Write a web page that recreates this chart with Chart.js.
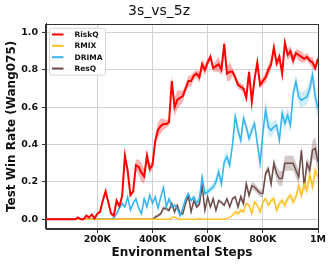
<!DOCTYPE html>
<html>
<head>
<meta charset="utf-8">
<script src="https://cdn.jsdelivr.net/npm/chart.js@4"></script>
<style>
    html, body { margin: 0; padding: 0; background: #fff; }
    #wrap { width: 332px; height: 265px; }
</style>
</head>
<body>
<div id="wrap"><canvas id="chart" width="332" height="265"></canvas></div>
<script>
/**
 * 3s_vs_5z win rate curves
 */

// environment steps, in thousands
const stepsK = [
    10, 20, 30, 40, 50, 60, 70, 80, 90, 100,
    110, 120, 130, 140, 150, 160, 170, 180, 190, 200,
    210, 220, 230, 240, 250, 260, 270, 280, 290, 300,
    310, 320, 330, 340, 350, 360, 370, 380, 390, 400,
    410, 420, 430, 440, 450, 460, 470, 480, 490, 500,
    510, 520, 530, 540, 550, 560, 570, 580, 590, 600,
    610, 620, 630, 640, 650, 660, 670, 680, 690, 700,
    710, 720, 730, 740, 750, 760, 770, 780, 790, 800,
    810, 820, 830, 840, 850, 860, 870, 880, 890, 900,
    910, 920, 930, 940, 950, 960, 970, 980, 990, 1000
];

const riskq = [
    0, 0, 0, 0, 0, 0, 0, 0, 0, 0,
    0, 0, 0.01, 0, 0, 0.02, 0.01, 0.025, 0.005, 0.03,
    0.04, 0.10, 0.15, 0.09, 0.03, 0.02, 0.10, 0.07, 0.125, 0.34,
    0.26, 0.13, 0.15, 0.29, 0.28, 0.25, 0.23, 0.34, 0.27, 0.29,
    0.42, 0.48, 0.50, 0.51, 0.51, 0.52, 0.74, 0.60, 0.64, 0.65,
    0.66, 0.70, 0.74, 0.74, 0.77, 0.78, 0.76, 0.83, 0.80, 0.84,
    0.87, 0.81, 0.82, 0.83, 0.80, 0.94, 0.78, 0.79, 0.79, 0.76,
    0.72, 0.71, 0.70, 0.65, 0.79, 0.63, 0.75, 0.84, 0.72, 0.74,
    0.76, 0.80, 0.83, 0.92, 0.835, 0.87, 0.78, 0.945, 0.88, 0.90,
    0.85, 0.89, 0.88, 0.87, 0.86, 0.87, 0.85, 0.84, 0.81, 0.86
];
const riskqStd = [
    0, 0, 0, 0, 0, 0, 0, 0, 0, 0,
    0, 0, 0, 0, 0, 0, 0, 0, 0, 0,
    0.01, 0.01, 0.01, 0.01, 0.01, 0.01, 0.01, 0.01, 0.01, 0.02,
    0.02, 0.01, 0.01, 0.03, 0.04, 0.05, 0.04, 0.04, 0.03, 0.02,
    0.03, 0.04, 0.04, 0.03, 0.02, 0.02, 0.03, 0.05, 0.05, 0.04,
    0.03, 0.02, 0.03, 0.03, 0.02, 0.02, 0.03, 0.03, 0.03, 0.02,
    0.02, 0.02, 0.03, 0.04, 0.03, 0.02, 0.04, 0.05, 0.02, 0.02,
    0.02, 0.02, 0.02, 0.02, 0.02, 0.02, 0.02, 0.02, 0.02, 0.02,
    0.03, 0.03, 0.03, 0.02, 0.02, 0.03, 0.03, 0.02, 0.03, 0.03,
    0.03, 0.02, 0.03, 0.03, 0.02, 0.02, 0.02, 0.03, 0.02, 0.02
];

const rmix = [
    0, 0, 0, 0, 0, 0, 0, 0, 0, 0,
    0, 0, 0, 0, 0, 0, 0, 0, 0, 0,
    0, 0, 0, 0, 0, 0, 0, 0, 0, 0,
    0, 0, 0, 0, 0, 0, 0, 0, 0, 0,
    0, 0, 0, 0, 0, 0, 0.01, 0.012, 0.005, 0,
    0, 0, 0, 0, 0, 0, 0.005, 0, 0, 0,
    0, 0, 0, 0, 0, 0, 0.005, 0.01, 0.02, 0.04,
    0.03, 0.048, 0.04, 0.084, 0.075, 0.03, 0.093, 0.075, 0.04, 0.093,
    0.11, 0.075, 0.10, 0.11, 0.048, 0.084, 0.10, 0.075, 0.11, 0.128,
    0.093, 0.12, 0.18, 0.128, 0.19, 0.155, 0.236, 0.173, 0.263, 0.227
];
const rmixStd = [
    0, 0, 0, 0, 0, 0, 0, 0, 0, 0,
    0, 0, 0, 0, 0, 0, 0, 0, 0, 0,
    0, 0, 0, 0, 0, 0, 0, 0, 0, 0,
    0, 0, 0, 0, 0, 0, 0, 0, 0, 0,
    0, 0, 0, 0, 0, 0, 0, 0, 0, 0,
    0, 0, 0, 0, 0, 0, 0, 0, 0, 0,
    0, 0, 0, 0, 0, 0, 0, 0, 0, 0.01,
    0.01, 0.01, 0.01, 0.01, 0.01, 0.01, 0.01, 0.01, 0.01, 0.01,
    0.01, 0.01, 0.02, 0.02, 0.02, 0.02, 0.02, 0.02, 0.02, 0.02,
    0.02, 0.02, 0.03, 0.03, 0.03, 0.03, 0.03, 0.03, 0.03, 0.03
];

const drima = [
    0, 0, 0, 0, 0, 0, 0, 0, 0, 0,
    0, 0, 0, 0, 0, 0, 0, 0, 0, 0,
    0, 0, 0, 0, 0, 0.01, 0.03, 0.06, 0.085, 0.066,
    0.12, 0.05, 0.086, 0.11, 0.06, 0.03, 0.11, 0.066, 0.13, 0.086,
    0.12, 0.06, 0.12, 0.17, 0.066, 0.11, 0.066, 0.075, 0.057, 0.02,
    0.06, 0.11, 0.138, 0.10, 0.12, 0.084, 0.11, 0.227, 0.138, 0.146,
    0.16, 0.173, 0.20, 0.254, 0.19, 0.307, 0.334, 0.29, 0.40, 0.55,
    0.477, 0.424, 0.54, 0.495, 0.433, 0.477, 0.513, 0.406, 0.30, 0.46,
    0.585, 0.495, 0.477, 0.495, 0.504, 0.424, 0.567, 0.513, 0.558, 0.504,
    0.674, 0.736, 0.656, 0.638, 0.647, 0.656, 0.70, 0.772, 0.656, 0.593
];
const drimaStd = [
    0, 0, 0, 0, 0, 0, 0, 0, 0, 0,
    0, 0, 0, 0, 0, 0, 0, 0, 0, 0,
    0, 0, 0, 0, 0, 0.005, 0.01, 0.01, 0.01, 0.01,
    0.01, 0.01, 0.01, 0.01, 0.01, 0.01, 0.01, 0.01, 0.01, 0.01,
    0.01, 0.01, 0.01, 0.01, 0.01, 0.01, 0.01, 0.01, 0.01, 0.01,
    0.01, 0.01, 0.01, 0.01, 0.01, 0.02, 0.02, 0.02, 0.02, 0.02,
    0.02, 0.02, 0.03, 0.03, 0.03, 0.03, 0.03, 0.03, 0.03, 0.03,
    0.03, 0.03, 0.03, 0.03, 0.03, 0.03, 0.03, 0.03, 0.04, 0.04,
    0.05, 0.05, 0.04, 0.03, 0.03, 0.03, 0.04, 0.04, 0.04, 0.04,
    0.04, 0.04, 0.04, 0.04, 0.04, 0.04, 0.05, 0.05, 0.06, 0.05
];

const resq = [
    0, 0, 0, 0, 0, 0, 0, 0, 0, 0,
    0, 0, 0, 0, 0, 0, 0, 0, 0, 0,
    0, 0, 0, 0, 0, 0, 0, 0, 0, 0,
    0, 0, 0, 0, 0, 0, 0, 0, 0, 0,
    0.012, 0.02, 0.03, 0.06, 0.057, 0.048, 0.084, 0.04, 0.075, 0.03,
    0.03, 0.084, 0.128, 0.04, 0.10, 0.066, 0.08, 0.18, 0.048, 0.12,
    0.066, 0.11, 0.048, 0.10, 0.09, 0.075, 0.11, 0.066, 0.11, 0.12,
    0.066, 0.12, 0.084, 0.19, 0.128, 0.18, 0.173, 0.155, 0.14, 0.138,
    0.245, 0.27, 0.19, 0.30, 0.245, 0.218, 0.218, 0.30, 0.30, 0.30,
    0.30, 0.263, 0.227, 0.37, 0.173, 0.30, 0.263, 0.37, 0.38, 0.307
];
const resqStd = [
    0, 0, 0, 0, 0, 0, 0, 0, 0, 0,
    0, 0, 0, 0, 0, 0, 0, 0, 0, 0,
    0, 0, 0, 0, 0, 0, 0, 0, 0, 0,
    0, 0, 0, 0, 0, 0, 0, 0, 0, 0,
    0.01, 0.01, 0.01, 0.01, 0.01, 0.01, 0.01, 0.01, 0.01, 0.01,
    0.01, 0.01, 0.01, 0.01, 0.01, 0.01, 0.01, 0.01, 0.01, 0.01,
    0.01, 0.01, 0.01, 0.01, 0.01, 0.01, 0.01, 0.01, 0.01, 0.01,
    0.02, 0.02, 0.02, 0.02, 0.02, 0.02, 0.02, 0.02, 0.02, 0.02,
    0.02, 0.02, 0.03, 0.03, 0.04, 0.04, 0.04, 0.04, 0.04, 0.04,
    0.04, 0.04, 0.04, 0.03, 0.03, 0.03, 0.04, 0.05, 0.06, 0.05
];

const xTickVals = [200000, 400000, 600000, 800000, 1000000];
const xTickLabels = ['200K', '400K', '600K', '800K', '1M'];
const yTickVals = [0, 0.2, 0.4, 0.6, 0.8, 1.0];
const yTickLabels = ['0.0', '0.2', '0.4', '0.6', '0.8', '1.0'];

const FONT = "'DejaVu Sans', sans-serif";

const series = [
    { label: 'RiskQ', mean: riskq, std: riskqStd, color: '#ff0000', band: 'rgba(255, 0, 0, 0.3)', width: 2 },
    { label: 'RMIX', mean: rmix, std: rmixStd, color: '#ffc125', band: 'rgba(255, 193, 37, 0.25)', width: 1.5 },
    { label: 'DRIMA', mean: drima, std: drimaStd, color: '#33b4f0', band: 'rgba(51, 180, 240, 0.25)', width: 1.5 },
    { label: 'ResQ', mean: resq, std: resqStd, color: '#6d4c48', band: 'rgba(109, 76, 72, 0.3)', width: 1.5 }
];

function points(s, sign) {
    return stepsK.map((k, i) => ({ x: k * 1000, y: s.mean[i] + sign * s.std[i] }));
}

const datasets = [];
series.forEach(function (s, k) {
    // shaded std band: lower edge, then upper edge filled down to it
    datasets.push({
        data: points(s, -1), borderWidth: 0, pointRadius: 0, fill: false, order: 20
    });
    datasets.push({
        data: points(s, 1), borderWidth: 0, pointRadius: 0, fill: '-1',
        backgroundColor: s.band, order: 20
    });
    datasets.push({
        label: s.label, isMain: true,
        data: points(s, 0),
        borderColor: s.color, backgroundColor: s.color,
        borderWidth: s.width, pointRadius: 0, fill: false, order: k
    });
});

/**
 * Legend box drawn inside the plot, top left
 */
const legendBox = {
    id: 'legendBox',
    afterDatasetsDraw(chart) {
        const ctx = chart.ctx;
        const area = chart.chartArea;
        const items = chart.data.datasets.filter(d => d.isMain);
        const x0 = area.left + 3.5, y0 = area.top + 4.5;
        const w = 56, rowH = 11.35, h = items.length * rowH + 1.5;

        ctx.save();
        ctx.beginPath();
        if (ctx.roundRect) ctx.roundRect(x0, y0, w, h, 2);
        else ctx.rect(x0, y0, w, h);
        ctx.fillStyle = 'rgba(255, 255, 255, 0.85)';
        ctx.fill();
        ctx.strokeStyle = '#d6d6d6';
        ctx.lineWidth = 1;
        ctx.stroke();

        ctx.font = 'bold 7.5px ' + FONT;
        ctx.textBaseline = 'middle';
        ctx.fillStyle = '#111';
        items.forEach(function (d, i) {
            const y = y0 + 6.2 + i * rowH;
            ctx.beginPath();
            ctx.moveTo(x0 + 2.5, y);
            ctx.lineTo(x0 + 14, y);
            ctx.strokeStyle = d.borderColor;
            ctx.lineWidth = 2;
            ctx.stroke();
            ctx.fillText(d.label, x0 + 25, y + 0.5);
        });
        ctx.restore();
    }
};

/**
 * Full frame around the plot (top and right spines too)
 */
const frame = {
    id: 'frame',
    afterDraw(chart) {
        const ctx = chart.ctx;
        const a = chart.chartArea;
        ctx.save();
        ctx.strokeStyle = '#333';
        ctx.lineWidth = 1;
        ctx.strokeRect(Math.round(a.left) - 0.5, Math.round(a.top) + 0.5,
            Math.round(a.right - a.left) + 1, Math.round(a.bottom - a.top) - 1);
        ctx.restore();
    }
};

new Chart(document.getElementById('chart'), {
    type: 'line',
    data: { datasets: datasets },
    options: {
        responsive: false,
        devicePixelRatio: 1,
        animation: false,
        layout: { padding: { left: 0, right: 14, top: 0, bottom: 0 } },
        elements: { line: { tension: 0 } },
        plugins: {
            legend: { display: false },
            tooltip: { enabled: false },
            title: {
                display: true,
                text: '3s_vs_5z',
                color: '#111',
                font: { family: FONT, size: 14, weight: 'normal' },
                padding: { top: 3, bottom: 4 }
            }
        },
        scales: {
            x: {
                type: 'linear',
                min: 14000,
                max: 1000000,
                afterBuildTicks: s => { s.ticks = xTickVals.map(v => ({ value: v })); },
                afterFit: s => { s.height = 36; },
                ticks: {
                    callback: (v, i) => xTickLabels[i],
                    color: '#111',
                    font: { family: FONT, size: 9.5, weight: 'bold' },
                    padding: 1,
                    maxRotation: 0,
                    autoSkip: false
                },
                grid: { color: '#d2d2d2', lineWidth: 1, tickLength: 4, tickColor: '#333' },
                border: { color: '#333', width: 1 },
                title: {
                    display: true,
                    text: 'Environmental Steps',
                    color: '#111',
                    font: { family: FONT, size: 12, weight: 'bold' },
                    padding: { top: 0, bottom: 5 }
                }
            },
            y: {
                min: -0.052,
                max: 1.047,
                afterBuildTicks: s => { s.ticks = yTickVals.map(v => ({ value: v })); },
                afterFit: s => { s.width = 46; },
                ticks: {
                    callback: (v, i) => yTickLabels[i],
                    color: '#111',
                    font: { family: FONT, size: 9.5, weight: 'bold' },
                    padding: 4
                },
                grid: { color: '#d2d2d2', lineWidth: 1, tickLength: 4, tickColor: '#333' },
                border: { color: '#333', width: 1 },
                title: {
                    display: true,
                    text: 'Test Win Rate (Wang075)',
                    color: '#111',
                    font: { family: FONT, size: 12, weight: 'bold' },
                    padding: { top: 5, bottom: 0 }
                }
            }
        }
    },
    plugins: [legendBox, frame]
});
</script>
</body>
</html>
